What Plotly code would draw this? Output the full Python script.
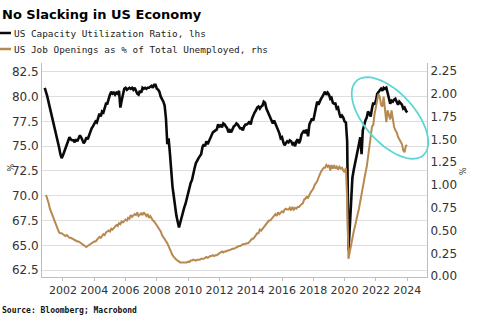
import numpy as np
import pandas as pd
import plotly.graph_objects as go

# ---------------- data ----------------
cap_util_start = "2000-11-01"
cap_util = [
    80.9, 80.5,
    80.0, 79.4, 78.9, 78.3, 77.8, 77.2, 76.7, 76.2, 75.6, 74.9, 74.2, 73.8,   # 2001
    74.1, 74.5, 74.9, 75.3, 75.5, 75.9, 75.7, 75.6, 75.6, 75.4, 75.7, 75.5,   # 2002
    75.8, 76.1, 75.9, 75.6, 75.3, 75.5, 75.9, 75.7, 76.1, 76.3, 76.8, 77.0,   # 2003
    77.3, 77.5, 77.4, 77.8, 78.3, 78.0, 78.5, 78.4, 78.8, 79.3, 79.3, 79.8,   # 2004
    80.2, 80.5, 80.3, 80.4, 80.2, 80.4, 80.3, 80.6, 78.9, 79.6, 80.4, 80.8,   # 2005
    80.9, 80.7, 80.8, 80.9, 80.8, 80.9, 80.7, 80.9, 80.6, 80.3, 80.2, 80.6,   # 2006
    80.4, 80.9, 80.8, 80.9, 80.8, 80.9, 80.9, 81.0, 81.1, 80.9, 81.2, 81.2,   # 2007
    80.8, 80.7, 80.5, 80.0, 79.8, 79.5, 79.1, 77.8, 75.2, 75.8, 74.3, 72.5,   # 2008
    70.9, 69.9, 68.9, 68.0, 67.4, 66.8, 67.3, 67.9, 68.5, 68.8, 69.2, 69.8,   # 2009
    70.4, 70.7, 71.3, 71.6, 72.4, 72.8, 73.3, 73.6, 73.8, 74.0, 74.2, 74.9,   # 2010
    75.2, 75.0, 75.5, 75.2, 75.5, 75.8, 76.2, 76.4, 76.5, 76.6, 76.7, 77.2,   # 2011
    77.0, 77.1, 76.9, 77.3, 77.2, 77.0, 76.8, 76.4, 76.6, 76.4, 76.8, 77.0,   # 2012
    77.1, 77.3, 77.2, 77.0, 76.8, 76.8, 76.6, 77.0, 77.2, 77.2, 77.3, 77.5,   # 2013
    77.2, 77.8, 78.2, 78.4, 78.6, 78.9, 79.0, 78.8, 79.0, 79.1, 79.5, 79.4,   # 2014
    78.8, 78.5, 78.2, 77.9, 77.6, 77.3, 77.6, 77.3, 77.0, 76.7, 76.3, 75.8,   # 2015
    75.9, 75.4, 75.1, 75.3, 75.5, 75.4, 75.6, 75.5, 75.2, 75.3, 75.0, 75.5,   # 2016
    75.7, 75.3, 75.6, 76.2, 76.4, 76.6, 76.3, 76.7, 76.0, 77.2, 77.5, 77.8,   # 2017
    77.6, 78.3, 78.8, 79.5, 79.2, 79.6, 79.8, 80.0, 80.3, 80.5, 80.2, 80.4,   # 2018
    80.2, 79.8, 79.9, 79.4, 79.3, 79.3, 78.8, 78.9, 78.3, 77.9, 78.1, 77.9,   # 2019
    77.5, 77.4, 75.5, 64.5, 66.8, 69.6, 71.8, 72.6, 73.2, 73.8, 74.3, 75.2,   # 2020
    75.9, 74.2, 76.6, 77.3, 77.6, 77.9, 78.5, 78.3, 78.0, 78.8, 79.4, 79.2,   # 2021
    79.6, 80.3, 80.5, 80.6, 80.8, 80.6, 80.9, 80.8, 80.9, 80.4, 79.9, 79.3,   # 2022
    79.6, 79.5, 79.7, 79.8, 79.5, 79.2, 79.5, 79.3, 79.2, 78.8, 78.9, 78.6,   # 2023
    78.4,                                                                    # 2024
]

job_ratio_start = "2000-12-01"
job_ratio = [
    0.89,
    0.85, 0.80, 0.74, 0.70, 0.66, 0.63, 0.58, 0.55, 0.52, 0.48, 0.47, 0.47,   # 2001
    0.46, 0.45, 0.44, 0.45, 0.43, 0.42, 0.42, 0.41, 0.40, 0.40, 0.39, 0.38,   # 2002
    0.38, 0.37, 0.36, 0.35, 0.34, 0.33, 0.32, 0.33, 0.34, 0.35, 0.36, 0.37,   # 2003
    0.38, 0.38, 0.40, 0.41, 0.43, 0.42, 0.44, 0.46, 0.45, 0.48, 0.49, 0.50,   # 2004
    0.49, 0.52, 0.51, 0.53, 0.54, 0.56, 0.55, 0.58, 0.57, 0.60, 0.59, 0.61,   # 2005
    0.62, 0.61, 0.64, 0.63, 0.67, 0.65, 0.66, 0.68, 0.67, 0.70, 0.66, 0.68,   # 2006
    0.69, 0.67, 0.70, 0.68, 0.66, 0.68, 0.64, 0.66, 0.63, 0.61, 0.60, 0.58,   # 2007
    0.55, 0.54, 0.51, 0.49, 0.45, 0.43, 0.41, 0.38, 0.36, 0.33, 0.29, 0.26,   # 2008
    0.23, 0.21, 0.19, 0.18, 0.17, 0.16, 0.15, 0.15, 0.15, 0.145, 0.15, 0.15,  # 2009
    0.16, 0.155, 0.17, 0.17, 0.18, 0.17, 0.17, 0.18, 0.18, 0.18, 0.19, 0.19,  # 2010
    0.19, 0.20, 0.21, 0.20, 0.21, 0.22, 0.22, 0.23, 0.22, 0.23, 0.23, 0.24,   # 2011
    0.25, 0.26, 0.27, 0.26, 0.27, 0.27, 0.28, 0.28, 0.29, 0.29, 0.30, 0.30,   # 2012
    0.31, 0.32, 0.32, 0.33, 0.33, 0.34, 0.35, 0.35, 0.36, 0.36, 0.36, 0.38,   # 2013
    0.39, 0.41, 0.41, 0.43, 0.45, 0.47, 0.47, 0.51, 0.50, 0.52, 0.54, 0.55,   # 2014
    0.57, 0.59, 0.61, 0.61, 0.63, 0.65, 0.67, 0.68, 0.66, 0.70, 0.68, 0.70,   # 2015
    0.71, 0.70, 0.73, 0.74, 0.73, 0.73, 0.75, 0.72, 0.76, 0.73, 0.75, 0.74,   # 2016
    0.76, 0.76, 0.78, 0.79, 0.80, 0.84, 0.85, 0.87, 0.86, 0.90, 0.92, 0.94,   # 2017
    0.96, 1.00, 1.02, 1.04, 1.08, 1.12, 1.15, 1.17, 1.19, 1.19, 1.22, 1.20,   # 2018
    1.22, 1.16, 1.22, 1.18, 1.22, 1.18, 1.20, 1.17, 1.20, 1.18, 1.19, 1.16,   # 2019
    1.14, 1.19, 0.84, 0.19, 0.27, 0.36, 0.42, 0.49, 0.55, 0.63, 0.68, 0.74,   # 2020
    0.83, 0.88, 0.98, 1.08, 1.13, 1.20, 1.33, 1.45, 1.53, 1.64, 1.66, 1.78,   # 2021
    1.88, 1.93, 2.00, 1.97, 1.88, 1.86, 1.97, 1.79, 1.69, 1.82, 1.75, 1.72,   # 2022
    1.82, 1.70, 1.64, 1.60, 1.58, 1.53, 1.50, 1.47, 1.45, 1.38, 1.36, 1.43,   # 2023
    1.44,                                                                    # 2024
]

title_text = "No Slacking in US Economy"
legend_labels = ["US Capacity Utilization Ratio, lhs",
                 "US Job Openings as % of Total Unemployed, rhs"]
source_text = "Source: Bloomberg; Macrobond"
x_tick_years = [2002, 2004, 2006, 2008, 2010, 2012, 2014, 2016, 2018, 2020, 2022, 2024]

# ---------------- styling ----------------
W, H = 485, 324
L, R, T, B = 42, 58, 63, 47
BLACK = "#0a0a0a"
GOLD = "#b8894f"
CYAN = "#5fd6d6"
TXT = "#333333"

cap_dates = pd.date_range(cap_util_start, periods=len(cap_util), freq="MS")
job_dates = pd.date_range(job_ratio_start, periods=len(job_ratio), freq="MS")

fig = go.Figure()
fig.add_trace(go.Scatter(x=job_dates, y=job_ratio, mode="lines", yaxis="y2",
                         line=dict(color=GOLD, width=2), name=legend_labels[1]))
fig.add_trace(go.Scatter(x=cap_dates, y=cap_util, mode="lines", yaxis="y",
                         line=dict(color=BLACK, width=2.6), name=legend_labels[0]))

pw, ph = W - L - R, H - T - B


def px2paper(px, py):
    return (px - L) / pw, (H - B - py) / ph


# highlight ellipse (pixel-space parameters)
cx, cy, a, b, ang = 390, 118, 50, 25, np.deg2rad(48)
t = np.linspace(0, 2 * np.pi, 73)
ex = cx + a * np.cos(t) * np.cos(ang) - b * np.sin(t) * np.sin(ang)
ey = cy + a * np.cos(t) * np.sin(ang) + b * np.sin(t) * np.cos(ang)
pts = [px2paper(x, y) for x, y in zip(ex, ey)]
path = "M " + " L ".join(f"{x:.5f},{y:.5f}" for x, y in pts) + " Z"

shapes = [dict(type="path", path=path, xref="paper", yref="paper",
               line=dict(color=CYAN, width=1.8), layer="above")]

# legend samples
for i, col in enumerate([BLACK, GOLD]):
    yy = 33 + 16 * i
    x0, y0 = px2paper(0, yy)
    x1, _ = px2paper(11, yy)
    shapes.append(dict(type="line", xref="paper", yref="paper", x0=x0, x1=x1, y0=y0, y1=y0,
                       line=dict(color=col, width=2.5)))

annotations = []
tx, ty = px2paper(0, 15)
annotations.append(dict(text=f"<b>{title_text}</b>", x=tx, y=ty, xref="paper", yref="paper",
                        xanchor="left", yanchor="middle", showarrow=False,
                        font=dict(family="DejaVu Sans", size=13, color="#000000")))
for i, lab in enumerate(legend_labels):
    lx, ly = px2paper(12, 33 + 16 * i)
    annotations.append(dict(text=lab, x=lx, y=ly, xref="paper", yref="paper",
                            xanchor="left", yanchor="middle", showarrow=False,
                            font=dict(family="DejaVu Sans Mono", size=9.4, color="#222222")))
sx, sy = px2paper(0, 310)
annotations.append(dict(text=f"<b>{source_text}</b>", x=sx, y=sy, xref="paper", yref="paper",
                        xanchor="left", yanchor="middle", showarrow=False,
                        font=dict(family="DejaVu Sans Mono", size=8, color="#111111")))
# small rotated axis unit labels
ux, uy = px2paper(4, 168)
annotations.append(dict(text="%", x=ux, y=uy, xref="paper", yref="paper", textangle=-90,
                        showarrow=False, font=dict(family="DejaVu Sans", size=8, color="#333")))
ux, uy = px2paper(468, 172)
annotations.append(dict(text="%", x=ux, y=uy, xref="paper", yref="paper", textangle=90,
                        showarrow=False, font=dict(family="DejaVu Sans", size=8, color="#333")))

fig.update_layout(
    width=W, height=H,
    margin=dict(l=L, r=R, t=T, b=B, autoexpand=False),
    paper_bgcolor="white", plot_bgcolor="white",
    showlegend=False,
    font=dict(family="DejaVu Sans", color=TXT),
    xaxis=dict(type="date", range=["2000-08-29", "2025-04-08"],
               tickvals=[f"{y}-01-01" for y in x_tick_years],
               ticktext=[str(y) for y in x_tick_years],
               showgrid=False, showline=True, linecolor="#bdbdbd", linewidth=1,
               ticks="outside", ticklen=3, tickcolor="#bdbdbd",
               tickfont=dict(size=11, color=TXT), zeroline=False),
    yaxis=dict(range=[61.8, 83.4], dtick=2.5, tick0=62.5, tickformat=".1f",
               showgrid=True, gridcolor="#dedede", gridwidth=1,
               showline=True, linecolor="#bdbdbd", linewidth=1, zeroline=False,
               ticks="", tickfont=dict(size=12, color=TXT)),
    yaxis2=dict(range=[-0.01, 2.34], dtick=0.25, tick0=0, tickformat=".2f",
                overlaying="y", side="right", showgrid=False,
                showline=True, linecolor="#bdbdbd", linewidth=1, zeroline=False,
                ticks="", tickfont=dict(size=12, color=TXT)),
    shapes=shapes,
    annotations=annotations,
)

fig.write_html("out.html")
